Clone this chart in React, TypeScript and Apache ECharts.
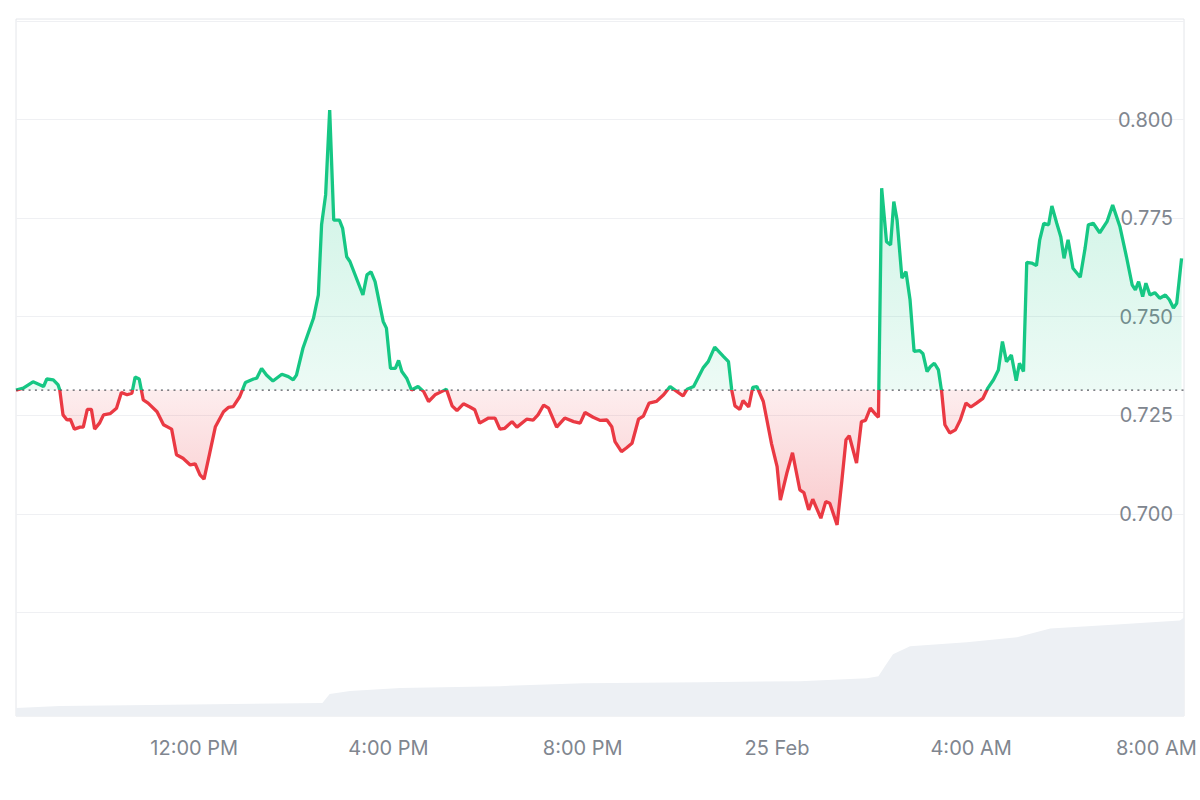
import React, { useEffect, useRef } from 'react';
import * as echarts from 'echarts';

// time in minutes since 00:00 on 24 Feb
const times = [502,511,523,532,536,540,548,554,556,560,565,569,574,581,585,590,595,599,605,610,618,626,632,639,645,649,654,659,665,676,684,694,700,708,717,723,729,734,741,748,758,764,770,778,785,795,799,805,811,819,830,838,844,848,856,869,875,879,884,889,894,901,905,910,914,930,935,940,945,955,959,964,970,974,978,984,990,998,1005,1011,1019,1027,1033,1040,1046,1054,1062,1068,1074,1085,1093,1099,1105,1114,1120,1132,1140,1146,1153,1159,1169,1179,1190,1198,1204,1214,1223,1231,1237,1241,1249,1255,1262,1270,1276,1283,1292,1301,1309,1315,1325,1330,1338,1350,1356,1364,1375,1381,1385,1389,1395,1399,1406,1411,1416,1424,1434,1441,1445,1453,1460,1469,1474,1480,1485,1495,1501,1506,1515,1521,1526,1530,1539,1545,1550,1556,1563,1566,1570,1576,1581,1585,1589,1595,1600,1605,1610,1617,1621,1626,1630,1635,1640,1644,1648,1654,1661,1667,1674,1680,1687,1695,1701,1708,1714,1719,1724,1730,1736,1740,1745,1749,1755,1761,1765,1770,1776,1780,1786,1791,1795,1800,1806,1815,1821,1825,1831,1839,1848,1855,1864,1872,1879,1883,1887,1892,1896,1901,1907,1913,1920,1925,1930,1934,1940];

const prices = [0.7314,0.7319,0.7335,0.7327,0.7323,0.7342,0.7340,0.7327,0.7314,0.7251,0.7238,0.7240,0.7215,0.7220,0.7220,0.7265,0.7265,0.7215,0.7230,0.7251,0.7254,0.7268,0.7308,0.7302,0.7306,0.7347,0.7342,0.7289,0.7281,0.7259,0.7226,0.7215,0.7150,0.7141,0.7124,0.7127,0.7099,0.7088,0.7154,0.7221,0.7259,0.7270,0.7272,0.7297,0.7333,0.7342,0.7344,0.7369,0.7352,0.7337,0.7354,0.7348,0.7340,0.7352,0.7420,0.7496,0.7555,0.7733,0.7809,0.8024,0.7745,0.7745,0.7724,0.7652,0.7640,0.7555,0.7606,0.7614,0.7589,0.7488,0.7471,0.7369,0.7369,0.7389,0.7361,0.7344,0.7314,0.7323,0.7310,0.7285,0.7302,0.7310,0.7316,0.7274,0.7262,0.7279,0.7271,0.7264,0.7230,0.7243,0.7243,0.7215,0.7217,0.7234,0.7220,0.7240,0.7238,0.7251,0.7276,0.7268,0.7220,0.7243,0.7234,0.7230,0.7257,0.7245,0.7237,0.7238,0.7221,0.7183,0.7158,0.7167,0.7179,0.7240,0.7248,0.7281,0.7285,0.7302,0.7323,0.7314,0.7299,0.7316,0.7323,0.7371,0.7386,0.7423,0.7399,0.7386,0.7314,0.7274,0.7265,0.7287,0.7271,0.7321,0.7323,0.7285,0.7179,0.7120,0.7035,0.7103,0.7155,0.7061,0.7054,0.7010,0.7037,0.6989,0.7031,0.7027,0.6972,0.7086,0.7188,0.7198,0.7129,0.7234,0.7237,0.7268,0.7251,0.7245,0.7826,0.7690,0.7682,0.7792,0.7745,0.7598,0.7614,0.7543,0.7412,0.7414,0.7406,0.7361,0.7373,0.7382,0.7365,0.7310,0.7226,0.7205,0.7213,0.7238,0.7281,0.7271,0.7281,0.7293,0.7319,0.7340,0.7365,0.7437,0.7386,0.7403,0.7338,0.7382,0.7361,0.7638,0.7636,0.7630,0.7695,0.7737,0.7733,0.7781,0.7737,0.7703,0.7648,0.7695,0.7623,0.7600,0.7674,0.7733,0.7737,0.7713,0.7741,0.7783,0.7728,0.7652,0.7581,0.7568,0.7589,0.7551,0.7585,0.7555,0.7561,0.7547,0.7555,0.7543,0.7522,0.7534,0.7648];

const volumeTimes = [502,556,667,770,880,889,914,976,1099,1202,1346,1469,1552,1566,1574,1584,1605,1675,1737,1778,1860,1938,1943];
const volumes = [8,10,11,12,13,22,25,28,30,33,34,35,38,40,50,62,70,74,79,88,92,96,99];

// label axis starts at 8:00 AM so 4-hour ticks fall on the hour
const xLabelMin = 480;
const xTickMinutes = [720, 960, 1200, 1440, 1680, 1920];
const xTickLabels = ['12:00 PM', '4:00 PM', '8:00 PM', '25 Feb', '4:00 AM', '8:00 AM'];
const yTickLabels = ['0.700', '0.725', '0.750', '0.775', '0.800'];

const X_MIN = 502;
const X_MAX = 1943;
const baseline = prices[0];
const GREEN = '#16c784';
const RED = '#ea3943';
const LABEL = '#80868f';
const FONT = 'Inter, "Noto Sans", sans-serif';

export default function App() {
  const ref = useRef<HTMLDivElement>(null);
  useEffect(() => {
    const chart = echarts.init(ref.current!, null, { renderer: 'svg' });
    const n = Math.min(times.length, prices.length);
    const priceData: number[][] = [];
    for (let i = 0; i < n; i++) priceData.push([times[i], prices[i]]);
    const volData = volumeTimes.map((t, i) => [t, volumes[i]]);
    const lastIdx = xTickMinutes.length - 1;
    const plotW = 1200 - 16 - 16;
    const pxPerMin = plotW / (X_MAX - X_MIN);
    const labelLeft = 16 - (X_MIN - xLabelMin) * pxPerMin;
    const maxV = Math.max(...prices.slice(0, n));
    const minV = Math.min(...prices.slice(0, n));
    const off = (maxV - baseline) / (maxV - minV);
    const areaGradient = new echarts.graphic.LinearGradient(0, 0, 0, 1, [
      { offset: 0, color: 'rgba(22,199,132,0.24)' },
      { offset: off, color: 'rgba(22,199,132,0.08)' },
      { offset: off, color: 'rgba(234,57,67,0.09)' },
      { offset: 1, color: 'rgba(234,57,67,0.27)' },
    ]);
    chart.setOption({
      animation: false,
      backgroundColor: '#ffffff',
      textStyle: { fontFamily: FONT },
      grid: [
        { left: 16, right: 16, top: 19, height: 697, show: true, borderColor: '#e4e6ea', borderWidth: 1, backgroundColor: 'transparent' },
        { left: 16, right: 16, top: 21, height: 690 },
        { left: labelLeft, right: 16, top: 19, height: 697 },
      ],
      xAxis: [
        { type: 'value', gridIndex: 0, min: X_MIN, max: X_MAX, show: false },
        { type: 'value', gridIndex: 1, min: X_MIN, max: X_MAX, show: false },
        {
          type: 'value', gridIndex: 2, min: xLabelMin, max: X_MAX, interval: 240,
          axisLine: { show: false }, axisTick: { show: false }, splitLine: { show: false },
          axisLabel: {
            margin: 22,
            fontSize: 20,
            color: LABEL,
            fontFamily: FONT,
            showMinLabel: false,
            showMaxLabel: false,
            formatter: (v: number) => {
              const i = xTickMinutes.indexOf(Math.round(v));
              if (i < 0) return '';
              return i === lastIdx ? '{last|' + xTickLabels[i] + '}' : xTickLabels[i];
            },
            rich: { last: { fontSize: 20, color: LABEL, fontFamily: FONT, padding: [0, 18, 0, 0] } },
          },
        },
      ],
      yAxis: [
        { type: 'value', gridIndex: 0, min: 0, max: 700, show: false },
        {
          type: 'value', gridIndex: 1, position: 'right', min: 0.65, max: 0.825, interval: 0.025,
          axisLine: { show: false }, axisTick: { show: false },
          splitLine: { show: true, lineStyle: { color: '#eff0f3', width: 1 } },
          axisLabel: {
            inside: true, margin: 11, fontSize: 20, color: LABEL, fontFamily: FONT,
            formatter: (v: number) => {
              const s = v.toFixed(3);
              return yTickLabels.indexOf(s) >= 0 ? s : '';
            },
          },
        },
        { type: 'value', gridIndex: 2, min: 0, max: 1, show: false },
      ],
      visualMap: {
        type: 'piecewise', show: false, seriesIndex: 1, dimension: 1,
        pieces: [
          { gte: 0.6, lt: baseline, color: RED },
          { gte: baseline, lte: 0.9, color: GREEN },
        ],
        outOfRange: { color: GREEN },
      },
      series: [
        {
          type: 'line', xAxisIndex: 0, yAxisIndex: 0, data: volData, showSymbol: false, silent: true,
          lineStyle: { width: 0 }, areaStyle: { color: '#edf0f4', opacity: 1 }, z: 1,
        },
        {
          type: 'line', xAxisIndex: 1, yAxisIndex: 1, data: priceData, showSymbol: false,
          lineStyle: { width: 3.3 }, areaStyle: { origin: baseline, color: areaGradient, opacity: 1 }, z: 3,
        },
        {
          type: 'line', xAxisIndex: 1, yAxisIndex: 1, data: [[X_MIN, baseline], [X_MAX, baseline]],
          showSymbol: false, silent: true, z: 4,
          lineStyle: { type: [2, 4.3], color: '#55585f', width: 1.2 },
        },
      ],
    });
    return () => chart.dispose();
  }, []);
  return <div ref={ref} style={{ position: 'fixed', left: 0, top: 0, width: 1200, height: 800, background: '#fff' }} />;
}
